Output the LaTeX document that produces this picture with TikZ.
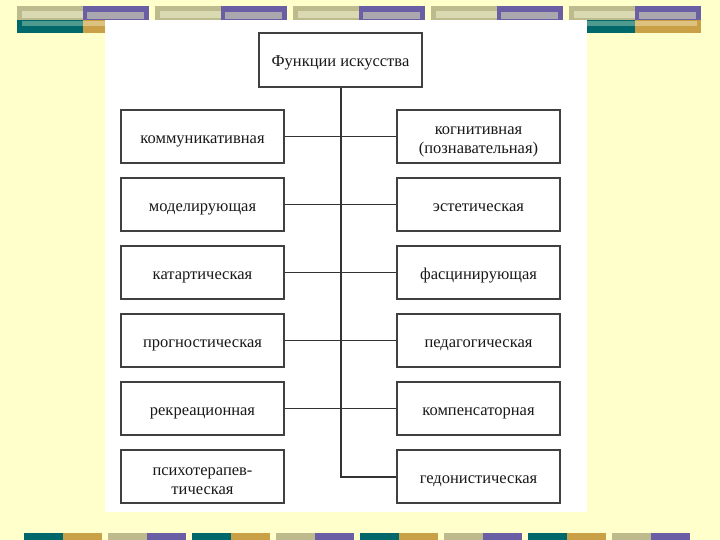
\documentclass[tikz,border=0pt]{standalone}
\usepackage{fontspec}
\setmainfont{Liberation Serif}
\usepackage{tikz}
\tikzset{>=latex}
\definecolor{bg}{HTML}{FFFFCC}
\definecolor{khakibar}{HTML}{BDBB8E}
\definecolor{khakilt}{HTML}{D9DAB2}
\definecolor{violetbar}{HTML}{6A5EA4}
\definecolor{violetlt}{HTML}{ABA7AE}
\definecolor{tealbar}{HTML}{00686A}
\definecolor{teallt}{HTML}{4E9A8E}
\definecolor{goldbar}{HTML}{C9A046}
\definecolor{goldlt}{HTML}{DCC27E}
\tikzset{fn2/.style={draw=black!75, line width=1.5pt, fill=white,
    minimum width=163pt, minimum height=53pt, inner sep=0pt, align=center,
    font=\fontsize{16.5}{19}\selectfont, text=black!90},
  fn/.style={fn2, text height=14pt, text depth=0pt}}
\newcommand{\up}{\rule{0pt}{18pt}}

\begin{document}
\begin{tikzpicture}[x=1pt,y=-1pt]
        \useasboundingbox[fill=bg] (0,0) rectangle (720,540);

        % top bars
        \foreach \i in {0,...,4} {
            \pgfmathsetmacro{\xa}{17+138*\i}
            \fill[tealbar] (\xa,20) rectangle (\xa+66,33);
            \fill[teallt] (\xa+5,21) rectangle (\xa+66,26);
            \fill[goldbar] (\xa+66,20) rectangle (\xa+132,33);
            \fill[goldlt] (\xa+66,21) rectangle (\xa+128,26);
            \fill[khakibar] (\xa,6) rectangle (\xa+66,20);
            \fill[khakilt] (\xa+5,11) rectangle (\xa+66,18);
            \fill[violetbar] (\xa+66,6) rectangle (\xa+132,20);
            \fill[violetlt] (\xa+70,12) rectangle (\xa+127,19);
        }

        % bottom bars
        \foreach \j in {0,...,3} {
            \pgfmathsetmacro{\xb}{24+168*\j}
            \fill[tealbar] (\xb,533) rectangle (\xb+39,540);
            \fill[goldbar] (\xb+39,533) rectangle (\xb+78,540);
            \fill[khakibar] (\xb+84,533) rectangle (\xb+123,540);
            \fill[violetbar] (\xb+123,533) rectangle (\xb+162,540);
        }

        \fill[white] (105,20) rectangle (587,512);

        \node[fn, minimum height=54pt] (f) at (340.5,60) {Функции искусства};

        \node[fn] (l1) at (202.5,136.5) {коммуникативная};
        \node[fn] (l2) at (202.5,204.5) {моделирующая};
        \node[fn] (l3) at (202.5,272.5) {катартическая};
        \node[fn] (l4) at (202.5,340.5) {прогностическая};
        \node[fn] (l5) at (202.5,408.5) {рекреационная};
        \node[fn2] (l6) at (202.5,476.5) {\up психотерапев-\\тическая};

        \node[fn2] (r1) at (478.5,136.5) {\up когнитивная\\(познавательная)};
        \node[fn] (r2) at (478.5,204.5) {эстетическая};
        \node[fn] (r3) at (478.5,272.5) {фасцинирующая};
        \node[fn] (r4) at (478.5,340.5) {педагогическая};
        \node[fn] (r5) at (478.5,408.5) {компенсаторная};
        \node[fn] (r6) at (478.5,476.5) {гедонистическая};

        \draw[line width=2pt, black!80] (f.south) |- (r6.west);
        \foreach \k in {1,...,5}
            \draw[line width=1.8pt, black!80] (l\k.east) -- (r\k.west);
    \end{tikzpicture}
\end{document}
